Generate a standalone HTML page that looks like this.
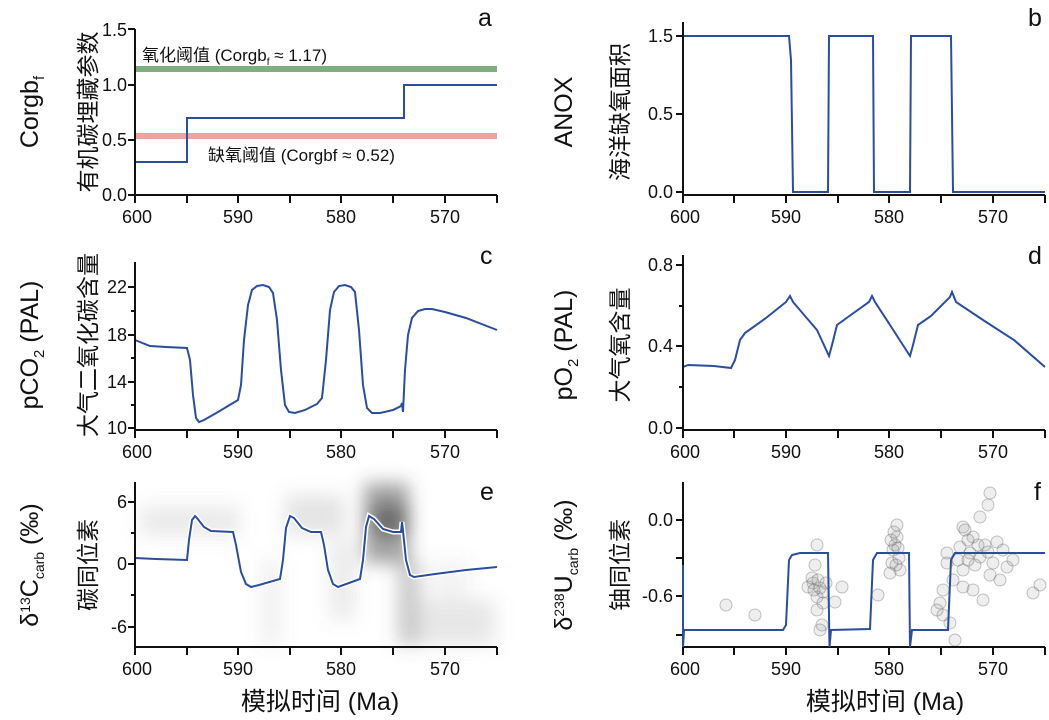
<!DOCTYPE html>
<html><head><meta charset="utf-8"><style>
body{margin:0;background:#fff}
svg{display:block}
text{font-family:"Liberation Sans","Noto Sans CJK SC",sans-serif;fill:#111}
.t{font-size:18px}
.yl{font-size:25px}
.yc{font-size:23px}
.ax{stroke:#111;stroke-width:2;fill:none}
.c{fill:none;stroke:#2a4d9c;stroke-width:2}
.ci{fill:rgba(150,150,150,0.16);stroke:rgba(90,90,90,0.35);stroke-width:1}
</style></head><body>
<svg width="1049" height="720" viewBox="0 0 1049 720">
<defs><filter id="bl" x="-50%" y="-50%" width="200%" height="200%"><feGaussianBlur stdDeviation="9"/></filter></defs>

<!-- ===== panel a ===== -->
<g>
<line x1="135" y1="69" x2="497" y2="69" stroke="#7fae7f" stroke-width="6"/>
<line x1="135" y1="136" x2="497" y2="136" stroke="#eea3a0" stroke-width="6"/>
<polyline class="c" points="135,162 187,162 187,118 404,118 404,85 497,85"/>
<path class="ax" d="M135,29V195H497M135,29h-7M135,85h-7M135,140h-7M135,195h-7M135,195v8M187,195v8M238,195v8M290,195v8M341,195v8M393,195v8M445,195v8M497,195v8"/>
<g class="t" text-anchor="end"><text x="127" y="36">1.5</text><text x="127" y="91">1.0</text><text x="127" y="146">0.5</text><text x="127" y="201">0.0</text></g>
<g class="t" text-anchor="middle"><text x="137" y="223">600</text><text x="238" y="223">590</text><text x="341" y="223">580</text><text x="445" y="223">570</text></g>
<text x="142" y="61" style="font-size:17px">氧化阈值 (Corgb<tspan dy="4" style="font-size:10px">f</tspan><tspan dy="-4"> ≈ 1.17)</tspan></text>
<text x="208" y="161" style="font-size:17px">缺氧阈值 (Corgbf ≈ 0.52)</text>
<text x="478" y="26" style="font-size:25px">a</text>
<text transform="translate(38,112) rotate(-90)" class="yl" text-anchor="middle">Corgb<tspan dy="6" style="font-size:15px">f</tspan></text>
<text transform="translate(96,112) rotate(-90)" class="yc" text-anchor="middle">有机碳埋藏参数</text>
</g>

<!-- ===== panel b ===== -->
<g>
<polyline class="c" points="683,36 789,36 791,60 793,192 828,192 829,36 873,36 874,192 910,192 911,36 951,36 953,192 1045,192"/>
<path class="ax" d="M683,22V195H1045M683,36h-7M683,114h-7M683,192h-7M683,195v8M734,195v8M786,195v8M838,195v8M889,195v8M941,195v8M993,195v8M1045,195v8"/>
<g class="t" text-anchor="end"><text x="673" y="42">1.5</text><text x="673" y="120">0.5</text><text x="673" y="198">0.0</text></g>
<g class="t" text-anchor="middle"><text x="685" y="223">600</text><text x="786" y="223">590</text><text x="889" y="223">580</text><text x="993" y="223">570</text></g>
<text x="1028" y="26" style="font-size:25px">b</text>
<text transform="translate(572,112) rotate(-90)" class="yl" text-anchor="middle">ANOX</text>
<text transform="translate(628,112) rotate(-90)" class="yc" text-anchor="middle">海洋缺氧面积</text>
</g>

<!-- ===== panel c ===== -->
<g>
<polyline class="c" points="135,340 150,346 166,347 187,348 190,360 193,395 196,418 199,422 204,420 218,412 233,403 238,400 241,385 244,340 248,305 252,290 257,286 263,285 269,287 273,293 277,320 281,370 285,405 289,412 295,413 305,410 317,404 322,398 326,360 330,310 334,292 339,286 345,285 351,287 355,292 359,330 363,385 367,408 372,413 380,413 393,410 401,406 402,403 403,412 405,370 408,335 412,318 418,311 425,309 432,309 445,312 466,318 497,330"/>
<path class="ax" d="M135,262V430H497M135,287h-7M135,311h-4M135,335h-7M135,358h-4M135,382h-7M135,405h-4M135,428h-7M135,430v8M187,430v8M238,430v8M290,430v8M341,430v8M393,430v8M445,430v8M497,430v8"/>
<g class="t" text-anchor="end"><text x="127" y="293">22</text><text x="127" y="341">18</text><text x="127" y="388">14</text><text x="127" y="434">10</text></g>
<g class="t" text-anchor="middle"><text x="137" y="458">600</text><text x="238" y="458">590</text><text x="341" y="458">580</text><text x="445" y="458">570</text></g>
<text x="480" y="264" style="font-size:25px">c</text>
<text transform="translate(38,345) rotate(-90)" class="yl" text-anchor="middle">pCO<tspan dy="6" style="font-size:15px">2</tspan><tspan dy="-6"> (PAL)</tspan></text>
<text transform="translate(96,345) rotate(-90)" class="yc" text-anchor="middle">大气二氧化碳含量</text>
</g>

<!-- ===== panel d ===== -->
<g>
<polyline class="c" points="683,367 688,365 714,366 731,368 735,360 740,340 745,333 766,318 786,302 790,296 793,302 817,330 829,356 832,345 837,325 848,317 869,302 872,296 875,302 890,325 910,356 913,345 918,325 931,316 950,297 952,292 956,302 983,320 1014,340 1045,367"/>
<path class="ax" d="M683,255V430H1045M683,265h-7M683,306h-4M683,346h-7M683,387h-4M683,428h-7M683,430v8M734,430v8M786,430v8M838,430v8M889,430v8M941,430v8M993,430v8M1045,430v8"/>
<g class="t" text-anchor="end"><text x="673" y="271">0.8</text><text x="673" y="352">0.4</text><text x="673" y="434">0.0</text></g>
<g class="t" text-anchor="middle"><text x="685" y="458">600</text><text x="786" y="458">590</text><text x="889" y="458">580</text><text x="993" y="458">570</text></g>
<text x="1028" y="264" style="font-size:25px">d</text>
<text transform="translate(572,345) rotate(-90)" class="yl" text-anchor="middle">pO<tspan dy="6" style="font-size:15px">2</tspan><tspan dy="-6"> (PAL)</tspan></text>
<text transform="translate(628,345) rotate(-90)" class="yc" text-anchor="middle">大气氧含量</text>
</g>

<!-- ===== panel e ===== -->
<g>
<g filter="url(#bl)">
<rect x="140" y="506" width="100" height="30" fill="rgba(120,120,120,0.15)"/>
<rect x="262" y="560" width="18" height="85" fill="rgba(120,120,120,0.12)"/>
<rect x="285" y="495" width="60" height="40" fill="rgba(120,120,120,0.2)"/>
<rect x="330" y="540" width="25" height="80" fill="rgba(120,120,120,0.15)"/>
<rect x="364" y="483" width="45" height="80" fill="rgba(70,70,70,0.5)"/>
<rect x="372" y="505" width="35" height="30" fill="rgba(40,40,40,0.45)"/>
<rect x="398" y="560" width="22" height="85" fill="rgba(90,90,90,0.32)"/>
<rect x="420" y="600" width="75" height="45" fill="rgba(120,120,120,0.18)"/>
<rect x="430" y="560" width="40" height="40" fill="rgba(120,120,120,0.08)"/>
</g>
<polyline fill="none" stroke="#fff" stroke-width="5" points="135,558 156,559 187,560 189,540 192,520 195,516 197,518 204,527 211,531 233,532 236,545 241,572 246,584 251,587 259,585 280,579 283,560 286,528 290,516 294,518 302,528 311,532 321,532 324,545 328,570 333,584 338,587 360,579 363,560 366,527 369,516 374,519 383,529 393,532 401,532 402,522 403,531 406,560 410,575 414,577 435,574 466,570 497,567"/>
<polyline class="c" points="135,558 156,559 187,560 189,540 192,520 195,516 197,518 204,527 211,531 233,532 236,545 241,572 246,584 251,587 259,585 280,579 283,560 286,528 290,516 294,518 302,528 311,532 321,532 324,545 328,570 333,584 338,587 360,579 363,560 366,527 369,516 374,519 383,529 393,532 401,532 402,522 403,531 406,560 410,575 414,577 435,574 466,570 497,567"/>
<path class="ax" d="M135,482V647H497M135,502h-7M135,533h-4M135,564h-7M135,595h-4M135,627h-7M135,647v8M187,647v8M238,647v8M290,647v8M341,647v8M393,647v8M445,647v8M497,647v8"/>
<g class="t" text-anchor="end"><text x="127" y="508">6</text><text x="127" y="570">0</text><text x="127" y="633">-6</text></g>
<g class="t" text-anchor="middle"><text x="137" y="675">600</text><text x="238" y="675">590</text><text x="341" y="675">580</text><text x="445" y="675">570</text></g>
<text x="480" y="500" style="font-size:25px">e</text>
<text transform="translate(38,565) rotate(-90)" class="yl" text-anchor="middle">δ<tspan dy="-8" style="font-size:14px">13</tspan><tspan dy="8">C</tspan><tspan dy="6" style="font-size:14px">carb</tspan><tspan dy="-6"> (‰)</tspan></text>
<text transform="translate(96,565) rotate(-90)" class="yc" text-anchor="middle">碳同位素</text>
<text x="320" y="710" style="font-size:25px" text-anchor="middle">模拟时间 (Ma)</text>
</g>

<!-- ===== panel f ===== -->
<g>
<g class="ci">
<circle cx="726" cy="605" r="6"/><circle cx="755" cy="615" r="6"/><circle cx="817" cy="545" r="6"/><circle cx="815" cy="565" r="6"/><circle cx="813" cy="583" r="6"/><circle cx="808" cy="587" r="6"/><circle cx="820" cy="588" r="6"/><circle cx="817" cy="597" r="6"/><circle cx="823" cy="603" r="6"/><circle cx="842" cy="587" r="6"/><circle cx="835" cy="602" r="6"/><circle cx="817" cy="610" r="6"/><circle cx="822" cy="625" r="6"/><circle cx="820" cy="630" r="6"/><circle cx="812" cy="578" r="6"/><circle cx="818" cy="580" r="6"/><circle cx="823" cy="592" r="6"/><circle cx="814" cy="590" r="6"/><circle cx="826" cy="583" r="6"/>
<circle cx="897" cy="525" r="6"/><circle cx="897" cy="537" r="6"/><circle cx="893" cy="550" r="6"/><circle cx="892" cy="563" r="6"/><circle cx="900" cy="570" r="6"/><circle cx="890" cy="573" r="6"/><circle cx="878" cy="595" r="6"/><circle cx="895" cy="545" r="6"/><circle cx="899" cy="558" r="6"/><circle cx="891" cy="540" r="6"/><circle cx="896" cy="565" r="6"/><circle cx="894" cy="532" r="6"/><circle cx="898" cy="548" r="6"/>
<circle cx="990" cy="493" r="6"/><circle cx="988" cy="505" r="6"/><circle cx="980" cy="517" r="6"/><circle cx="963" cy="527" r="6"/><circle cx="973" cy="537" r="6"/><circle cx="997" cy="542" r="6"/><circle cx="960" cy="547" r="6"/><circle cx="980" cy="557" r="6"/><circle cx="1003" cy="550" r="6"/><circle cx="993" cy="563" r="6"/><circle cx="963" cy="570" r="6"/><circle cx="953" cy="580" r="6"/><circle cx="963" cy="587" r="6"/><circle cx="973" cy="590" r="6"/><circle cx="983" cy="600" r="6"/><circle cx="943" cy="590" r="6"/><circle cx="940" cy="603" r="6"/><circle cx="943" cy="615" r="6"/><circle cx="950" cy="623" r="6"/><circle cx="955" cy="640" r="6"/><circle cx="937" cy="610" r="6"/><circle cx="947" cy="563" r="6"/><circle cx="1007" cy="567" r="6"/><circle cx="1040" cy="585" r="6"/><circle cx="1033" cy="593" r="6"/><circle cx="947" cy="553" r="6"/><circle cx="970" cy="553" r="6"/><circle cx="968" cy="540" r="6"/><circle cx="985" cy="545" r="6"/><circle cx="975" cy="565" r="6"/><circle cx="958" cy="560" r="6"/><circle cx="990" cy="575" r="6"/><circle cx="1000" cy="580" r="6"/><circle cx="1013" cy="560" r="6"/><circle cx="965" cy="530" r="6"/><circle cx="978" cy="545" r="6"/><circle cx="988" cy="552" r="6"/><circle cx="968" cy="560" r="6"/>
</g>
<path class="ax" d="M683,482V647H1045M683,520h-7M683,558h-7M683,596h-7M683,635h-7M683,647v8M734,647v8M786,647v8M838,647v8M889,647v8M941,647v8M993,647v8M1045,647v8"/>
<polyline class="c" points="683,565 683,647 684,630 783,630 786,625 789,560 792,555 800,553 828,553 829.5,647 831,630 870,629 873,560 877,553 909,553 910,647 912,630 948,630 951,560 955,553 1045,553"/>
<g class="t" text-anchor="end"><text x="673" y="526">0.0</text><text x="673" y="602">-0.6</text></g>
<g class="t" text-anchor="middle"><text x="685" y="675">600</text><text x="786" y="675">590</text><text x="889" y="675">580</text><text x="993" y="675">570</text></g>
<text x="1034" y="500" style="font-size:25px">f</text>
<text transform="translate(572,565) rotate(-90)" class="yl" text-anchor="middle">δ<tspan dy="-8" style="font-size:14px">238</tspan><tspan dy="8">U</tspan><tspan dy="6" style="font-size:14px">carb</tspan><tspan dy="-6"> (‰)</tspan></text>
<text transform="translate(628,565) rotate(-90)" class="yc" text-anchor="middle">铀同位素</text>
<text x="885" y="710" style="font-size:25px" text-anchor="middle">模拟时间 (Ma)</text>
</g>
</svg>
</body></html>
